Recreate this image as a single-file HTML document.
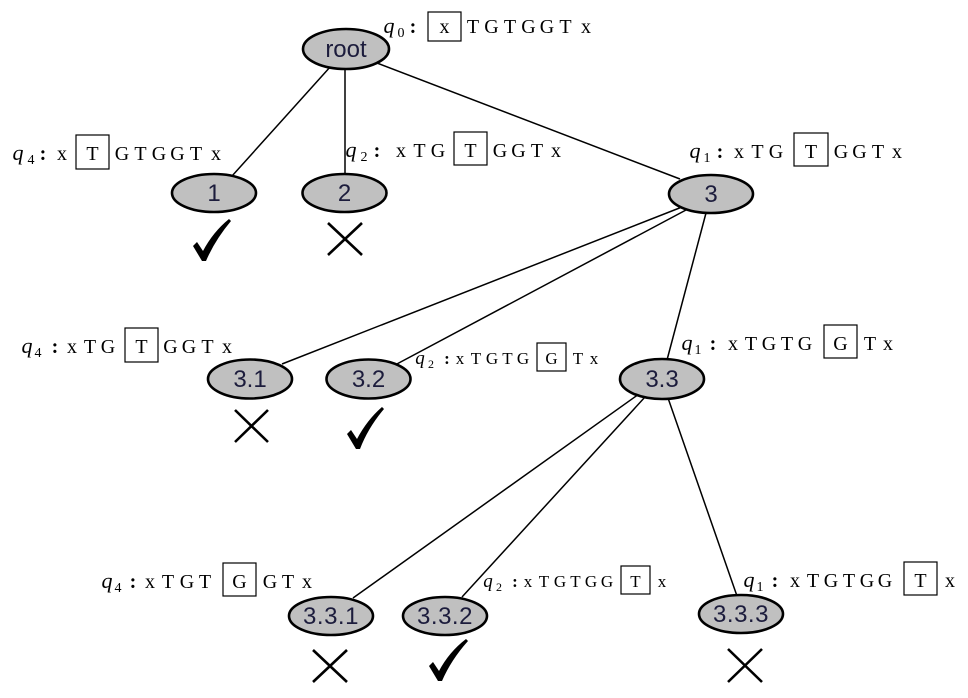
<!DOCTYPE html>
<html>
<head>
<meta charset="utf-8">
<style>
  html,body{margin:0;padding:0;background:#fff;}
  svg{display:block;}
  .nd{fill:#c0c0c0;stroke:#000;stroke-width:2.6;}
  .nt{font-family:"Liberation Sans",sans-serif;font-size:24px;fill:#1c1c3c;text-anchor:middle;}
  .ln{stroke:#000;stroke-width:1.5;fill:none;}
  .q{font-family:"Liberation Serif",serif;font-style:italic;font-size:22px;fill:#000;text-anchor:middle;}
  .s{font-family:"Liberation Serif",serif;font-size:14px;fill:#000;text-anchor:middle;}
  .c{font-family:"Liberation Serif",serif;font-size:20px;fill:#000;text-anchor:middle;font-weight:bold;}
  .t{font-family:"Liberation Serif",serif;font-size:20px;fill:#000;text-anchor:middle;}
  .qs{font-family:"Liberation Serif",serif;font-style:italic;font-size:19px;fill:#000;text-anchor:middle;}
  .ss{font-family:"Liberation Serif",serif;font-size:12px;fill:#000;text-anchor:middle;}
  .cs{font-family:"Liberation Serif",serif;font-size:17px;fill:#000;text-anchor:middle;font-weight:bold;}
  .ts{font-family:"Liberation Serif",serif;font-size:17px;fill:#000;text-anchor:middle;}
  .bx{fill:none;stroke:#000;stroke-width:1.2;}
  .xm{stroke:#000;stroke-width:2.6;fill:none;}
  .ck{fill:#000;}
</style>
</head>
<body>
<svg width="968" height="698" viewBox="0 0 968 698" xmlns="http://www.w3.org/2000/svg">
  <!-- edges -->
  <line class="ln" x1="331" y1="66" x2="232" y2="176"/>
  <line class="ln" x1="345" y1="69" x2="345" y2="175"/>
  <line class="ln" x1="377" y1="63" x2="680" y2="179"/>
  <line class="ln" x1="682" y1="207" x2="282" y2="364"/>
  <line class="ln" x1="686" y1="210" x2="395" y2="365"/>
  <line class="ln" x1="706" y1="213" x2="667" y2="360"/>
  <line class="ln" x1="639" y1="394" x2="353" y2="598"/>
  <line class="ln" x1="645" y1="397" x2="462" y2="597"/>
  <line class="ln" x1="668" y1="398" x2="737" y2="596"/>

  <!-- nodes -->
  <ellipse class="nd" cx="346" cy="49" rx="43" ry="20"/>
  <text class="nt" x="346" y="57">root</text>
  <ellipse class="nd" cx="214" cy="193" rx="42" ry="19"/>
  <text class="nt" x="214" y="201">1</text>
  <ellipse class="nd" cx="344.5" cy="193" rx="42" ry="19"/>
  <text class="nt" x="344.5" y="201">2</text>
  <ellipse class="nd" cx="711" cy="194" rx="42" ry="19"/>
  <text class="nt" x="711" y="202">3</text>
  <ellipse class="nd" cx="250" cy="379" rx="42" ry="19.5"/>
  <text class="nt" x="250" y="387">3.1</text>
  <ellipse class="nd" cx="368.5" cy="379" rx="42" ry="19.5"/>
  <text class="nt" x="368.5" y="387">3.2</text>
  <ellipse class="nd" cx="662" cy="379" rx="42" ry="20"/>
  <text class="nt" x="662" y="387">3.3</text>
  <ellipse class="nd" cx="331" cy="616" rx="42" ry="19"/>
  <text class="nt" x="331" y="624" letter-spacing="0.5">3.3.1</text>
  <ellipse class="nd" cx="445" cy="616" rx="42" ry="19"/>
  <text class="nt" x="445" y="624" letter-spacing="0.5">3.3.2</text>
  <ellipse class="nd" cx="741" cy="614" rx="42" ry="19"/>
  <text class="nt" x="741" y="622" letter-spacing="0.5">3.3.3</text>

  <!-- q0 label -->
  <text class="q" x="389" y="33">q</text><text class="s" x="401" y="37">0</text><text class="c" x="413" y="33">:</text>
  <rect class="bx" x="428" y="12" width="33" height="29"/>
  <text class="t" x="444.5" y="33">x</text>
  <text class="t" x="473" y="33">T</text><text class="t" x="491.5" y="33">G</text><text class="t" x="510" y="33">T</text><text class="t" x="528.5" y="33">G</text><text class="t" x="547" y="33">G</text><text class="t" x="565.5" y="33">T</text><text class="t" x="586" y="33">x</text>

  <!-- q4 row1 -->
  <text class="q" x="18" y="160">q</text><text class="s" x="31" y="164">4</text><text class="c" x="43" y="160">:</text>
  <text class="t" x="62" y="160">x</text>
  <rect class="bx" x="76" y="135" width="33" height="34"/>
  <text class="t" x="92.5" y="160">T</text>
  <text class="t" x="122" y="160">G</text><text class="t" x="140.5" y="160">T</text><text class="t" x="159" y="160">G</text><text class="t" x="177.5" y="160">G</text><text class="t" x="196" y="160">T</text><text class="t" x="216" y="160">x</text>

  <!-- q2 row1 -->
  <text class="q" x="351" y="157">q</text><text class="s" x="364" y="161">2</text><text class="c" x="377" y="157">:</text>
  <text class="t" x="401" y="157">x</text><text class="t" x="419.5" y="157">T</text><text class="t" x="438" y="157">G</text>
  <rect class="bx" x="454" y="132" width="33" height="33"/>
  <text class="t" x="470.5" y="157">T</text>
  <text class="t" x="500" y="157">G</text><text class="t" x="518.5" y="157">G</text><text class="t" x="537" y="157">T</text><text class="t" x="556" y="157">x</text>

  <!-- q1 row1 -->
  <text class="q" x="695" y="158">q</text><text class="s" x="707" y="162">1</text><text class="c" x="720" y="158">:</text>
  <text class="t" x="739" y="158">x</text><text class="t" x="757.5" y="158">T</text><text class="t" x="776" y="158">G</text>
  <rect class="bx" x="794" y="133" width="34" height="33"/>
  <text class="t" x="811" y="158">T</text>
  <text class="t" x="841" y="158">G</text><text class="t" x="859.5" y="158">G</text><text class="t" x="878" y="158">T</text><text class="t" x="897" y="158">x</text>

  <!-- q4 row2 -->
  <text class="q" x="27" y="353">q</text><text class="s" x="38" y="357">4</text><text class="c" x="55" y="353">:</text>
  <text class="t" x="72" y="353">x</text><text class="t" x="90" y="353">T</text><text class="t" x="108" y="353">G</text>
  <rect class="bx" x="125" y="328" width="33" height="34"/>
  <text class="t" x="141.5" y="353">T</text>
  <text class="t" x="170.5" y="353">G</text><text class="t" x="189" y="353">G</text><text class="t" x="207.5" y="353">T</text><text class="t" x="227" y="353">x</text>

  <!-- q2 small row2 -->
  <text class="qs" x="420" y="364">q</text><text class="ss" x="431" y="368">2</text><text class="cs" x="447" y="364">:</text>
  <text class="ts" x="460" y="364">x</text><text class="ts" x="476" y="364">T</text><text class="ts" x="492" y="364">G</text><text class="ts" x="507.5" y="364">T</text><text class="ts" x="523" y="364">G</text>
  <rect class="bx" x="537" y="343" width="29" height="28"/>
  <text class="ts" x="551.5" y="364">G</text>
  <text class="ts" x="578" y="364">T</text><text class="ts" x="594" y="364">x</text>

  <!-- q1 row2 -->
  <text class="q" x="687" y="350">q</text><text class="s" x="698" y="354">1</text><text class="c" x="713" y="350">:</text>
  <text class="t" x="733" y="350">x</text><text class="t" x="751" y="350">T</text><text class="t" x="769" y="350">G</text><text class="t" x="787" y="350">T</text><text class="t" x="805" y="350">G</text>
  <rect class="bx" x="824" y="325" width="33" height="33"/>
  <text class="t" x="840.5" y="350">G</text>
  <text class="t" x="870" y="350">T</text><text class="t" x="888" y="350">x</text>

  <!-- q4 row3 -->
  <text class="q" x="107" y="588">q</text><text class="s" x="118" y="592">4</text><text class="c" x="133" y="588">:</text>
  <text class="t" x="150" y="588">x</text><text class="t" x="168" y="588">T</text><text class="t" x="187" y="588">G</text><text class="t" x="205" y="588">T</text>
  <rect class="bx" x="223" y="563" width="33" height="33"/>
  <text class="t" x="239.5" y="588">G</text>
  <text class="t" x="270" y="588">G</text><text class="t" x="288" y="588">T</text><text class="t" x="307" y="588">x</text>

  <!-- q2 small row3 -->
  <text class="qs" x="488" y="587">q</text><text class="ss" x="499" y="591">2</text><text class="cs" x="515" y="587">:</text>
  <text class="ts" x="528" y="587">x</text><text class="ts" x="544" y="587">T</text><text class="ts" x="560" y="587">G</text><text class="ts" x="575.5" y="587">T</text><text class="ts" x="591" y="587">G</text><text class="ts" x="607" y="587">G</text>
  <rect class="bx" x="621" y="566" width="29" height="28"/>
  <text class="ts" x="635.5" y="587">T</text>
  <text class="ts" x="662" y="587">x</text>

  <!-- q1 row3 -->
  <text class="q" x="749" y="587">q</text><text class="s" x="760" y="591">1</text><text class="c" x="775" y="587">:</text>
  <text class="t" x="795" y="587">x</text><text class="t" x="813" y="587">T</text><text class="t" x="831" y="587">G</text><text class="t" x="849" y="587">T</text><text class="t" x="867" y="587">G</text><text class="t" x="885" y="587">G</text>
  <rect class="bx" x="904" y="562" width="33" height="33"/>
  <text class="t" x="920.5" y="587">T</text>
  <text class="t" x="950" y="587">x</text>

  <!-- check marks -->
  <path class="ck" d="M193,246 L197,242 L203,251 Q213,232 229,219 L231,221 Q215,240 206,261 L202,261 Z"/>
  <path class="ck" d="M347,434 L351,430 L357,439 Q367,420 382,407 L384,409 Q368,428 360,449 L356,449 Z"/>
  <path class="ck" d="M429,666 L433,662 L439,671 Q449,652 466,639 L468,641 Q451,660 442,681 L438,681 Z"/>

  <!-- X marks -->
  <path class="xm" d="M328,223 L362,255 M362,223 L328,255"/>
  <path class="xm" d="M235,410 L268,442 M268,410 L235,442"/>
  <path class="xm" d="M313,650 L347,682 M347,650 L313,682"/>
  <path class="xm" d="M728,649 L762,682 M762,649 L728,682"/>
</svg>
</body>
</html>
